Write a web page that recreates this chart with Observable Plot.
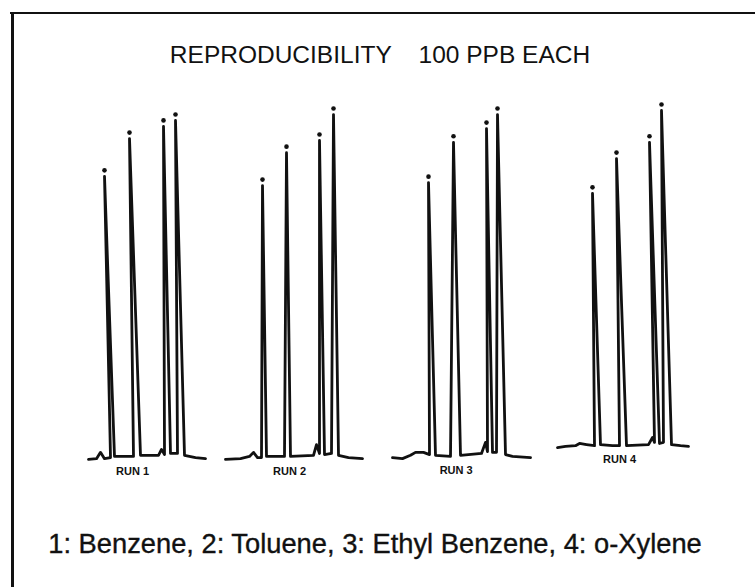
<!DOCTYPE html>
<html><head><meta charset="utf-8">
<script src="https://cdn.jsdelivr.net/npm/d3@7"></script>
<script src="https://cdn.jsdelivr.net/npm/@observablehq/plot@0.6"></script>
<style>
html,body{margin:0;padding:0;background:#fff;}
#wrap{position:relative;width:755px;height:587px;overflow:hidden;background:#fff;font-family:"Liberation Sans",Arial,sans-serif;color:#111;}
#frameTop{position:absolute;left:10px;top:12px;width:745px;height:0;border-top:2.5px solid #111;}
#frameLeft{position:absolute;left:11px;top:12px;width:0;height:575px;border-left:3px solid #111;}
#title{position:absolute;left:0;width:760px;top:41px;text-align:center;font-size:24.5px;white-space:pre;line-height:28px;}
#caption{position:absolute;left:0;width:750px;top:529px;text-align:center;font-size:27.3px;white-space:pre;line-height:30px;-webkit-text-stroke:0.35px #111;}
#chart{position:absolute;left:0;top:0;}
</style></head>
<body>
<div id="wrap">
  <div id="chart"></div>
  <div id="frameTop"></div>
  <div id="frameLeft"></div>
  <div id="title"></div>
  <div id="caption"></div>
</div>
<script>
// Chart text
const titleText = "REPRODUCIBILITY    100 PPB EACH";
const captionText = "1: Benzene, 2: Toluene, 3: Ethyl Benzene, 4: o-Xylene";
const runNames = ["RUN 1", "RUN 2", "RUN 3", "RUN 4"];

// Chromatogram traces: chart time (min) and detector signal (% of full scale), vertex by vertex
const run1Time   = [0.40, 0.80, 1.00, 1.20, 1.50, 1.20, 1.70, 2.65, 2.45, 3.00, 3.90, 4.05, 4.20, 4.15, 4.50, 4.85, 4.75, 5.20, 5.75, 6.25];
const run1Signal = [0.3, 0.5, 2.2, 0.5, 0.8, 76.8, 1.1, 1.1, 87.0, 1.4, 1.4, 3.0, 1.6, 90.3, 1.9, 1.9, 91.9, 1.4, 0.8, 0.5];

const run2Time   = [7.25, 8.00, 8.45, 8.65, 8.85, 9.05, 9.10, 9.30, 10.20, 10.30, 10.50, 11.65, 11.80, 11.95, 11.95, 12.20, 12.55, 12.65, 12.90, 13.40, 14.10];
const run2Signal = [0.3, 0.5, 1.1, 2.2, 0.8, 0.8, 74.3, 1.1, 1.1, 83.2, 1.1, 1.4, 4.3, 1.9, 86.5, 1.6, 1.9, 93.5, 1.4, 0.8, 0.5];

const run3Time   = [15.60, 16.10, 16.50, 16.75, 17.15, 17.45, 17.40, 17.75, 18.50, 18.65, 19.00, 20.05, 20.25, 20.35, 20.30, 20.60, 20.80, 20.85, 21.25, 21.60, 22.50];
const run3Signal = [0.8, 0.5, 1.4, 2.2, 2.2, 1.6, 75.1, 1.4, 1.1, 86.0, 1.4, 1.9, 4.9, 2.4, 89.7, 2.2, 2.2, 93.5, 1.6, 1.1, 0.8];

const run4Time   = [23.85, 24.25, 24.75, 24.95, 25.30, 25.70, 25.60, 26.00, 26.60, 26.95, 26.80, 27.30, 28.40, 28.60, 28.70, 28.45, 28.95, 29.15, 29.05, 29.55, 30.00, 30.40];
const run4Signal = [3.5, 3.8, 4.0, 4.6, 4.3, 4.0, 72.2, 4.3, 4.0, 4.0, 81.6, 4.0, 4.3, 6.2, 4.9, 86.0, 4.6, 4.9, 94.6, 4.3, 4.0, 3.8];

const runTimes = [run1Time, run2Time, run3Time, run4Time];
const runSignals = [run1Signal, run2Signal, run3Signal, run4Signal];

// Build tables
const trace = [];
const apexes = [];
const labels = [];
runNames.forEach((name, k) => {
  const pts = runTimes[k].map((t, i) => ({run: name, t, v: runSignals[k][i]}));
  trace.push(...pts);
  const top4 = [...pts].sort((a, b) => b.v - a.v).slice(0, 4);
  apexes.push(...top4);
  const peaks = [...top4].sort((a, b) => a.t - b.t);
  labels.push({run: name, t: (peaks[0].t + peaks[1].t + peaks[2].t) / 3, v: d3.min(pts, d => d.v)});
});

document.getElementById("title").textContent = titleText;
document.getElementById("caption").textContent = captionText;

const chart = Plot.plot({
  width: 755,
  height: 587,
  marginLeft: 80,
  marginRight: 55,
  marginTop: 90,
  marginBottom: 127,
  x: {domain: [0, 31], axis: null},
  y: {domain: [0, 100], axis: null},
  style: {background: "transparent"},
  marks: [
    Plot.line(trace, {x: "t", y: "v", z: "run", stroke: "#111", strokeWidth: 2.8, strokeLinejoin: "round", strokeLinecap: "round"}),
    Plot.dot(apexes, {x: "t", y: "v", r: 2.3, fill: "#111", dy: -6}),
    Plot.text(labels, {x: "t", y: "v", text: "run", dy: 12, fontSize: 11, fontWeight: "bold", fill: "#111",
      fontFamily: "Liberation Sans, Arial, sans-serif", letterSpacing: "3.5px"})
  ]
});
document.getElementById("chart").appendChild(chart);
</script>
</body></html>
